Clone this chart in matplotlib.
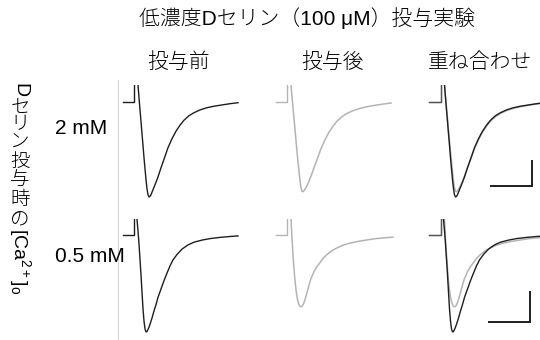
import matplotlib.pyplot as plt
from matplotlib.lines import Line2D

plt.rcParams['font.family'] = ['Liberation Sans', 'Noto Sans CJK JP', 'DejaVu Sans']
plt.rcParams['mathtext.fontset'] = 'custom'
plt.rcParams['mathtext.rm'] = 'Liberation Sans'
plt.rcParams['mathtext.default'] = 'regular'

# ---- data (time in ms from stimulus, current in pA) ----
# 2 mM, before (black)
t_2mM_pre = [0.98, 1.22, 1.46, 1.71, 1.95, 2.20, 2.44, 2.68, 2.93, 3.17, 3.41, 3.66, 3.90,
             4.15, 4.39, 4.88, 5.37, 5.85, 6.59, 7.32, 8.29, 9.27, 10.24, 11.22, 12.20,
             13.41, 14.63, 16.10, 17.56, 19.51, 21.46, 23.41, 25.37]
i_2mM_pre = [134, 32, -64, -160, -256, -352, -448, -536, -624, -696, -744, -762, -758,
             -744, -724, -684, -644, -602, -528, -460, -368, -296, -236, -188, -148,
             -112, -88, -66, -50, -36, -26, -16, -8]
# 2 mM, after D-serine (gray)
t_2mM_post = [0.98, 1.22, 1.46, 1.71, 1.95, 2.20, 2.44, 2.68, 2.93, 3.17, 3.41, 3.66, 3.90,
              4.15, 4.39, 4.88, 5.37, 5.85, 6.59, 7.32, 8.29, 9.27, 10.24, 11.22, 12.20,
              13.41, 14.63, 16.10, 17.56, 19.51, 21.46, 23.41, 25.37]
i_2mM_post = [134, 40, -48, -136, -224, -312, -400, -480, -560, -632, -688, -716, -720,
              -712, -700, -672, -636, -596, -528, -464, -376, -304, -244, -196, -156,
              -120, -94, -72, -56, -40, -29, -19, -11]
# 0.5 mM, before (black)
t_05mM_pre = [0.73, 0.98, 1.22, 1.46, 1.71, 1.95, 2.20, 2.44, 2.68, 2.93, 3.17, 3.41, 3.66,
              3.90, 4.39, 4.88, 5.37, 5.85, 6.59, 7.32, 8.05, 8.78, 9.51, 10.49, 11.71,
              13.17, 14.63, 16.59, 18.54, 20.98, 23.41, 25.37]
i_05mM_pre = [53, 13, -30, -80, -133, -190, -247, -287, -313, -323, -322, -315, -307,
              -298, -277, -253, -232, -208, -180, -152, -127, -103, -83, -65, -47,
              -33, -24, -17, -12, -8, -5, -3]
# 0.5 mM, after D-serine (gray)
t_05mM_post = [0.98, 1.22, 1.46, 1.71, 1.95, 2.20, 2.44, 2.68, 2.93, 3.17, 3.41, 3.66, 3.90,
               4.15, 4.39, 4.88, 5.37, 5.85, 6.59, 7.32, 8.05, 8.78, 9.76, 10.98, 12.20,
               13.66, 15.37, 17.07, 19.27, 21.71, 24.15, 25.85]
i_05mM_post = [53, -13, -67, -113, -153, -183, -207, -222, -232, -238, -239, -238, -233,
               -225, -215, -192, -167, -145, -122, -105, -92, -78, -65, -52, -43,
               -34, -27, -22, -17, -12, -9, -7]

# stimulus artifact (baseline then jump)
t_art = [-2.7, 0, 0]
art_top = {'2mM': 134, '05mM': 53}

col_titles = ['投与前', '投与後', '重ね合わせ']
row_labels = ['2 mM', '0.5 mM']
scalebar_t = 10          # ms
scalebar_i = [200, 100]  # pA per row

BLACK = '#1e1e1e'
GRAY = '#b4b4b4'

W, H = 540, 340
fig = plt.figure(figsize=(5.4, 3.4), dpi=100)


def px_axes(left, top, right, bottom):
    return fig.add_axes([left / W, 1 - bottom / H, (right - left) / W, (bottom - top) / H])


ms_px = 4.1
rows = [
    dict(base=101.7, pxpa=0.125, ylim=(-810, 134), key='2mM',
         pre=(t_2mM_pre, i_2mM_pre), post=(t_2mM_post, i_2mM_post), bar=(12.4, -674)),
    dict(base=235.0, pxpa=0.3, ylim=(-345, 53), key='05mM',
         pre=(t_05mM_pre, i_05mM_pre), post=(t_05mM_post, i_05mM_post), bar=(11.8, -289)),
]
col_steps = [134, 287, 440.5]
xlim = (-3, 30)

for r, row in enumerate(rows):
    top = row['base'] - row['ylim'][1] * row['pxpa']
    bottom = row['base'] - row['ylim'][0] * row['pxpa']
    for c, xs in enumerate(col_steps):
        left = xs - (0 - xlim[0]) * ms_px
        right = xs + xlim[1] * ms_px
        ax = px_axes(left, top, right, bottom)
        ax.set_xlim(*xlim)
        ax.set_ylim(*row['ylim'])
        ax.axis('off')
        a_top = art_top[row['key']]
        if c in (1, 2):
            ax.plot(t_art, [0, 0, a_top], color=GRAY, lw=1.0)
            ax.plot(*row['post'], color=GRAY, lw=1.1)
        if c in (0, 2):
            ax.plot(t_art, [0, 0, a_top], color=BLACK if c == 0 else '#555555', lw=1.0)
            ax.plot(*row['pre'], color=BLACK, lw=1.0)
        if c == 2:
            bx, by = row['bar']
            ax.plot([bx, bx + scalebar_t, bx + scalebar_t],
                    [by, by, by + scalebar_i[r]], color=BLACK, lw=1.4,
                    solid_joinstyle='miter', clip_on=False)

# thin vertical divider
fig.add_artist(Line2D([117.5 / W, 117.5 / W], [1 - 80 / H, 0], color='#d4d4d4', lw=0.8))

# texts
fs = 15
cjk = dict(fontsize=fs, fontweight='light')
fig.text(307 / W, 1 - 18 / H, '低濃度Dセリン（100 μM）投与実験', ha='center', va='center', **cjk)
fig.text(179 / W, 1 - 62 / H, col_titles[0], ha='center', va='center', **cjk)
fig.text(333 / W, 1 - 62 / H, col_titles[1], ha='center', va='center', **cjk)
fig.text(428 / W, 1 - 62 / H, col_titles[2], ha='left', va='center', **cjk)
fig.text(55 / W, 1 - 129 / H, row_labels[0], ha='left', va='center', fontsize=fs)
fig.text(55 / W, 1 - 257 / H, row_labels[1], ha='left', va='center', fontsize=fs)

# vertical (tategaki-like) y label: Latin rotated, kana/kanji upright
vx = 20
vfs = 14
fig.text(vx / W, 1 - 90 / H, 'D', rotation=270, ha='center', va='center', fontsize=vfs)
for ch, cy in zip('セリン投与時の', [108.5, 125, 143.5, 162.5, 180.5, 200.5, 220]):
    fig.text(vx / W, 1 - cy / H, ch, ha='center', va='center', fontsize=vfs, fontweight='light')
fig.text(vx / W, 1 - 228 / H, r'[Ca$^{2+}$]$_{o}$', rotation=270, rotation_mode='anchor',
         ha='left', va='center', fontsize=vfs)

fig.savefig('out.png', dpi=100)
